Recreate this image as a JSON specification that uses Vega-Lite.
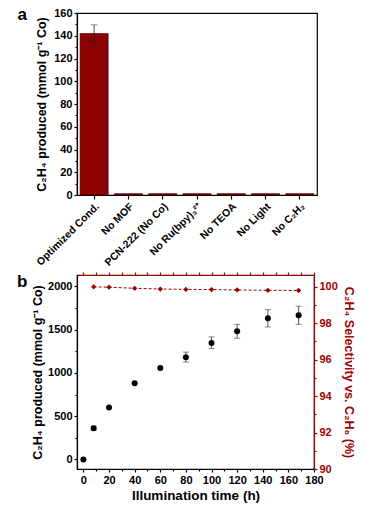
{
  "$schema": "https://vega.github.io/schema/vega-lite/v6.json",
  "padding": {"left": 16, "top": 5, "right": 5, "bottom": 5},
  "spacing": 80,
  "bounds": "flush",
  "config": {
    "font": "Liberation Sans",
    "view": {"stroke": "black", "strokeWidth": 1.2},
    "axis": {
      "labelFont": "Liberation Sans", "labelFontWeight": "bold", "labelFontSize": 11, "labelColor": "black",
      "titleFont": "Liberation Sans", "titleFontWeight": "bold", "titleFontSize": 12.5, "titleColor": "black",
      "domainColor": "black", "tickColor": "black", "domainWidth": 1.2, "tickWidth": 1.2, "tickSize": 3, "labelPadding": 2, "grid": false,
      "labelOverlap": false, "labelFlush": false
    },
    "title": {"font": "Liberation Sans", "fontWeight": "bold", "fontSize": 17, "color": "black"}
  },
  "vconcat": [
    {
      "width": 240,
      "height": 182,
      "title": {"text": "a", "orient": "left", "anchor": "end", "angle": 0, "baseline": "top", "align": "center", "offset": 3},
      "data": {"values": [
        {"cond": "Optimized Cond.", "val": 142, "lo": 134.5, "hi": 149.5},
        {"cond": "No MOF", "val": 1.2},
        {"cond": "PCN-222 (No Co)", "val": 1.2},
        {"cond": "No Ru(bpy)₃²⁺", "val": 1.2},
        {"cond": "No TEOA", "val": 1.2},
        {"cond": "No Light", "val": 1.2},
        {"cond": "No C₂H₂", "val": 1.2}
      ]},
      "layer": [
        {
          "mark": {"type": "bar", "color": "#8b0000", "stroke": "#3a0000", "strokeWidth": 0.6},
          "encoding": {
            "x": {"field": "cond", "type": "nominal", "sort": null,
                  "scale": {"paddingInner": 0.18, "paddingOuter": 0.09},
                  "axis": {"title": null, "labelAngle": -45, "labelAlign": "right", "labelBaseline": "top", "orient": "bottom", "labelPadding": 2, "labelFontSize": 10.5, "tickSize": 4}},
            "y": {"field": "val", "type": "quantitative", "scale": {"domain": [0, 160], "nice": false},
                  "axis": {"orient": "left", "values": [0, 20, 40, 60, 80, 100, 120, 140, 160], "title": "C₂H₄ produced (mmol g⁻¹ Co)", "titlePadding": 5}}
          }
        },
        {
          "transform": [{"filter": "datum.lo != null"}],
          "mark": {"type": "errorbar", "ticks": {"size": 7}, "color": "#222", "thickness": 0.8},
          "encoding": {
            "x": {"field": "cond", "type": "nominal", "sort": null, "axis": null},
            "y": {"field": "lo", "type": "quantitative", "axis": null},
            "y2": {"field": "hi"}
          }
        },
        {
          "mark": {"type": "point", "opacity": 0},
          "encoding": {
            "x": {"field": "cond", "type": "nominal", "sort": null, "axis": null},
            "y": {"field": "val", "type": "quantitative",
                  "axis": {"orient": "left", "values": [10, 30, 50, 70, 90, 110, 130, 150], "labels": false, "domain": false, "tickSize": 2, "title": null}}
          }
        }
      ],
      "resolve": {"axis": {"y": "independent", "x": "independent"}}
    },
    {
      "width": 237,
      "height": 194,
      "title": {"text": "b", "orient": "left", "anchor": "end", "angle": 0, "baseline": "top", "align": "center", "offset": -1, "dy": 3},
      "data": {"values": [
        {"t": 0, "c": 0},
        {"t": 8, "c": 360, "lo": 335, "hi": 385, "sel": 100.0},
        {"t": 20, "c": 600, "sel": 99.98},
        {"t": 40, "c": 880, "sel": 99.92},
        {"t": 60, "c": 1055, "sel": 99.88},
        {"t": 80, "c": 1180, "lo": 1125, "hi": 1240, "sel": 99.86},
        {"t": 100, "c": 1345, "lo": 1280, "hi": 1415, "sel": 99.85},
        {"t": 120, "c": 1480, "lo": 1400, "hi": 1560, "sel": 99.83},
        {"t": 144, "c": 1630, "lo": 1530, "hi": 1730, "sel": 99.81},
        {"t": 168, "c": 1665, "lo": 1560, "hi": 1770, "sel": 99.8}
      ]},
      "layer": [
        {
          "layer": [
            {
              "transform": [{"filter": "datum.lo != null"}],
              "mark": {"type": "errorbar", "ticks": {"size": 6}, "color": "#555", "thickness": 1},
              "encoding": {
                "x": {"field": "t", "type": "quantitative", "scale": {"domain": [-5, 180], "nice": false, "zero": false},
                      "axis": {"orient": "bottom", "values": [0, 20, 40, 60, 80, 100, 120, 140, 160, 180], "title": "Illumination time (h)", "titleFontSize": 13.5, "titlePadding": 3}},
                "y": {"field": "lo", "type": "quantitative", "scale": {"domain": [-110, 2130], "nice": false, "zero": false},
                      "axis": {"orient": "left", "values": [0, 500, 1000, 1500, 2000], "format": "d", "title": "C₂H₄ produced (mmol g⁻¹ Co)", "titlePadding": 3}},
                "y2": {"field": "hi"}
              }
            },
            {
              "mark": {"type": "point", "filled": true, "color": "black", "size": 36, "opacity": 1},
              "encoding": {
                "x": {"field": "t", "type": "quantitative", "scale": {"domain": [-5, 180], "nice": false, "zero": false}, "axis": null},
                "y": {"field": "c", "type": "quantitative", "scale": {"domain": [-110, 2130], "nice": false, "zero": false}, "axis": null}
              }
            },
            {
              "mark": {"type": "point", "opacity": 0},
              "encoding": {
                "x": {"field": "t", "type": "quantitative", "scale": {"domain": [-5, 180], "nice": false, "zero": false},
                      "axis": {"orient": "bottom", "values": [10, 30, 50, 70, 90, 110, 130, 150, 170], "labels": false, "domain": false, "tickSize": 2, "title": null}},
                "y": {"field": "c", "type": "quantitative", "scale": {"domain": [-110, 2130], "nice": false, "zero": false},
                      "axis": {"orient": "left", "values": [250, 750, 1250, 1750], "labels": false, "domain": false, "tickSize": 2, "title": null}}
              }
            }
          ],
          "resolve": {"axis": {"x": "independent", "y": "independent"}}
        },
        {
          "transform": [{"filter": "datum.sel != null"}],
          "layer": [
            {
              "mark": {"type": "line", "color": "#a00000", "strokeDash": [3, 2], "strokeWidth": 1},
              "encoding": {
                "x": {"field": "t", "type": "quantitative", "scale": {"domain": [-5, 180], "nice": false, "zero": false},
                      "axis": {"orient": "top", "values": [0, 10, 20, 30, 40, 50, 60, 70, 80, 90, 100, 110, 120, 130, 140, 150, 160, 170, 180], "labels": false, "title": null, "domainColor": "#a00000", "tickColor": "#a00000", "tickSize": 3}},
                "y": {"field": "sel", "type": "quantitative", "scale": {"domain": [90, 100.65], "nice": false, "zero": false},
                      "axis": {"orient": "right", "values": [90, 92, 94, 96, 98, 100], "title": "C₂H₄ Selectivity vs. C₂H₆ (%)", "labelColor": "#a00000", "titleColor": "#a00000", "domainColor": "#a00000", "tickColor": "#a00000", "titlePadding": 4}}
              }
            },
            {
              "mark": {"type": "point", "shape": "diamond", "filled": true, "color": "#a00000", "size": 28, "opacity": 1},
              "encoding": {
                "x": {"field": "t", "type": "quantitative", "scale": {"domain": [-5, 180], "nice": false, "zero": false}, "axis": null},
                "y": {"field": "sel", "type": "quantitative", "scale": {"domain": [90, 100.65], "nice": false, "zero": false}, "axis": null}
              }
            },
            {
              "mark": {"type": "point", "opacity": 0},
              "encoding": {
                "x": {"field": "t", "type": "quantitative", "scale": {"domain": [-5, 180], "nice": false, "zero": false}, "axis": null},
                "y": {"field": "sel", "type": "quantitative", "scale": {"domain": [90, 100.65], "nice": false, "zero": false},
                      "axis": {"orient": "right", "values": [91, 93, 95, 97, 99], "labels": false, "domain": false, "tickSize": 2, "title": null, "tickColor": "#a00000"}}
              }
            }
          ],
          "resolve": {"axis": {"x": "independent", "y": "independent"}}
        }
      ],
      "resolve": {"scale": {"y": "independent"}, "axis": {"x": "independent", "y": "independent"}}
    }
  ]
}
